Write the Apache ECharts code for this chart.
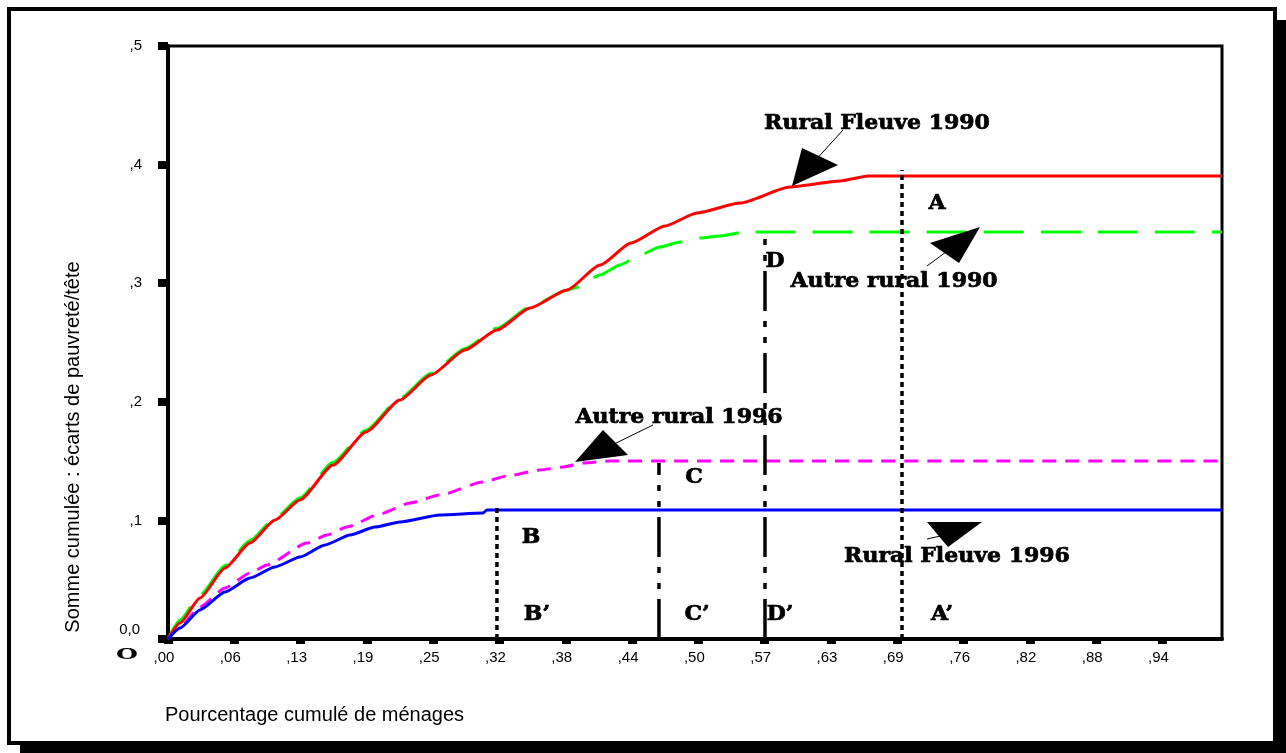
<!DOCTYPE html>
<html><head><meta charset="utf-8">
<script src="https://cdn.jsdelivr.net/npm/echarts@6/dist/echarts.min.js"></script>
<style>
html,body{margin:0;padding:0;background:#fff;width:1286px;height:753px;overflow:hidden;}
#shadow{position:absolute;left:20px;top:20px;width:1266px;height:733px;background:#000;}
#frame{position:absolute;left:7px;top:7px;width:1262px;height:730px;border:4px solid #000;background:#fff;}
#chart{position:absolute;left:0;top:0;width:1286px;height:753px;}
</style></head>
<body>
<div id="shadow"></div><div id="frame"></div><div id="chart"></div>
<script>
// ---- tick labels ----
const xTickLabels = [',00', ',06', ',13', ',19', ',25', ',32', ',38', ',44', ',50', ',57', ',63', ',69', ',76', ',82', ',88', ',94'];
const xTickStep = 0.0629;
const yTickLabels = ['0,0', ',1', ',2', ',3', ',4', ',5'];

// ---- series values [cumulative share of households, cumulative poverty gap] ----
const ruralFleuve1990 = [[0,0],[0.0114,0.0135],[0.0304,0.0346],[0.0541,0.0599],[0.0778,0.0809],[0.1015,0.1003],[0.1252,0.1172],[0.1565,0.1467],[0.1879,0.1745],[0.2201,0.2015],[0.2495,0.2226],[0.2818,0.2437],[0.3121,0.2605],[0.3435,0.2791],[0.3786,0.2943],[0.4099,0.3153],[0.4393,0.3339],[0.4715,0.3482],[0.5019,0.3592],[0.5427,0.3676],[0.5901,0.3811],[0.6376,0.3862],[0.6641,0.3904],[1.0,0.3904]];
const autreRural1990 = [[0,0],[0.0114,0.016],[0.0304,0.037],[0.0541,0.062],[0.0778,0.083],[0.1015,0.102],[0.1252,0.119],[0.1565,0.149],[0.1879,0.176],[0.2201,0.203],[0.2495,0.224],[0.2818,0.245],[0.3121,0.262],[0.3435,0.280],[0.3786,0.294],[0.3861,0.2960],[0.4099,0.3069],[0.4288,0.3153],[0.4478,0.3238],[0.4668,0.3305],[0.4858,0.3347],[0.5047,0.3381],[0.5237,0.3398],[0.5474,0.3432],[1.0,0.3432]];
const autreRural1996 = [[0,0],[0.0114,0.0101],[0.0304,0.0270],[0.0541,0.0430],[0.0778,0.0556],[0.0939,0.0624],[0.1319,0.0809],[0.1509,0.0877],[0.1698,0.0944],[0.2011,0.1054],[0.2296,0.1147],[0.2581,0.1214],[0.2989,0.1324],[0.3216,0.1374],[0.3529,0.1425],[0.3748,0.1450],[0.3937,0.1484],[0.4194,0.1501],[1.0,0.1501]];
const ruralFleuve1996 = [[0,0],[0.0114,0.0093],[0.0304,0.0245],[0.0541,0.0396],[0.0778,0.0514],[0.1015,0.0607],[0.1252,0.0691],[0.1490,0.0793],[0.1727,0.0877],[0.1964,0.0944],[0.2201,0.0987],[0.2581,0.1046],[0.2989,0.1062],[0.3027,0.1088],[1.0,0.1088]];

// ---- vertical reference lines (x, top) ----
const refA = [[0.6964,0],[0.6964,0.3954]];
const refB = [[0.3121,0],[0.3121,0.1138]];
const refC = [[0.4658,0],[0.4658,0.1484]];
const refD = [[0.5664,0],[0.5664,0.3449]];

const xTickValues = xTickLabels.map((_, i) => +(i * xTickStep).toFixed(4));
const SANS = '"Liberation Sans", Arial, sans-serif';
const SERIF = '"DejaVu Serif", serif';
const labFont = 'bold 20px ' + SERIF;

function txt(t, x, y, font, extra, align) {
  return Object.assign({type:'text', x:x, y:y, silent:true, z:50,
    style:{text:t, font:font, fill:'#000', align:align || 'center', verticalAlign:'middle'}}, extra || {});
}
function bold(t, x, y) {
  return {type:'text', x:x, y:y, scaleX:1.1, silent:true, z:50,
    style:{text:t, font:labFont, fill:'#000', stroke:'#000', lineWidth:0.7, align:'center', verticalAlign:'middle'}};
}
function tri(pts){ return {type:'polygon', silent:true, z:50, shape:{points:pts}, style:{fill:'#000'}}; }
function seg(x1,y1,x2,y2){ return {type:'line', silent:true, z:50, shape:{x1:x1,y1:y1,x2:x2,y2:y2}, style:{stroke:'#000', lineWidth:1}}; }

const chart = echarts.init(document.getElementById('chart'), null, {renderer:'canvas'});
const refStyleDot = {color:'#000', width:3.5, type:[5,4]};
const refStyleDashDot = {color:'#000', width:3.5, type:[40,10,6,10,6,10]};
const curve = {symbol:'none', smooth:0.2, smoothMonotone:'x'};
chart.setOption({
  animation:false,
  grid:{left:168, top:46, right:64, bottom:114, show:true, borderColor:'#000', borderWidth:3, backgroundColor:'transparent'},
  xAxis:{type:'value', min:0, max:1, interval:xTickStep,
    axisLine:{show:true, onZero:false, lineStyle:{color:'#000', width:4}},
    axisTick:{show:true, length:5, lineStyle:{color:'#000', width:9}, customValues:xTickValues},
    axisLabel:{customValues:xTickValues, margin:11, color:'#000', fontFamily:SANS, fontSize:15, padding:[0,8,0,0],
      formatter:function(v){ const i = Math.round(v / xTickStep); return (i < xTickLabels.length && Math.abs(i*xTickStep - v) < 1e-3) ? xTickLabels[i] : ''; }},
    splitLine:{show:false}},
  yAxis:{type:'value', min:0, max:0.5, interval:0.1,
    axisLine:{show:true, lineStyle:{color:'#000', width:4}},
    axisTick:{show:true, length:10, lineStyle:{color:'#000', width:8}},
    axisLabel:{margin:26, color:'#000', fontFamily:SANS, fontSize:15,
      formatter:function(v){ const i = Math.round(v*10); return i === 0 ? '{z|' + yTickLabels[0] + '}' : yTickLabels[i]; },
      rich:{z:{padding:[0,2,18,0], fontFamily:SANS, fontSize:15, color:'#000'}}},
    splitLine:{show:false}},
  series:[
    Object.assign({type:'line', name:'Autre rural 1990', data:autreRural1990, z:2, lineStyle:{color:'#00ff00', width:3, type:[40,17]}}, curve),
    Object.assign({type:'line', name:'Rural Fleuve 1990', data:ruralFleuve1990, z:3, lineStyle:{color:'#ff0000', width:3}}, curve),
    Object.assign({type:'line', name:'Autre rural 1996', data:autreRural1996, z:2, lineStyle:{color:'#ff00ff', width:3, type:[14,9]}}, curve),
    Object.assign({type:'line', name:'Rural Fleuve 1996', data:ruralFleuve1996, z:3, lineStyle:{color:'#0000ff', width:3}}, curve),
    {type:'line', data:refA, symbol:'none', z:4, silent:true, lineStyle:refStyleDot},
    {type:'line', data:refB, symbol:'none', z:4, silent:true, lineStyle:refStyleDot},
    {type:'line', data:refC, symbol:'none', z:4, silent:true, lineStyle:refStyleDashDot},
    {type:'line', data:refD, symbol:'none', z:4, silent:true, lineStyle:refStyleDashDot}
  ],
  graphic:[
    txt('Somme cumulée : écarts de pauvreté/tête', 73, 447, '20px ' + SANS, {rotation:Math.PI/2}),
    txt('Pourcentage cumulé de ménages', 165, 715, '20px ' + SANS, null, 'left'),
    txt('O', 127, 655, 'bold 14px ' + SERIF, {scaleX:1.8}),
    bold('Rural Fleuve 1990', 877, 124),
    bold('Autre rural 1990', 894, 282),
    bold('Autre rural 1996', 679, 418),
    bold('Rural Fleuve 1996', 957, 557),
    bold('A', 937, 204), bold('D', 775, 262), bold('C', 694, 478), bold('B', 531, 538),
    bold('B\u2019', 537, 615), bold('C\u2019', 697, 615), bold('D\u2019', 780, 615), bold('A\u2019', 942, 615),
    tri([[792,186],[802,148],[838,165]]), seg(843,130,813,163),
    tri([[980,227],[930,243],[959,263]]), seg(927,266,950,249),
    tri([[575,462],[603,430],[628,455]]), seg(653,425,608,447),
    tri([[927,522],[982,522],[948,547]]), seg(927,539,945,535)
  ]
});
</script>
</body></html>
